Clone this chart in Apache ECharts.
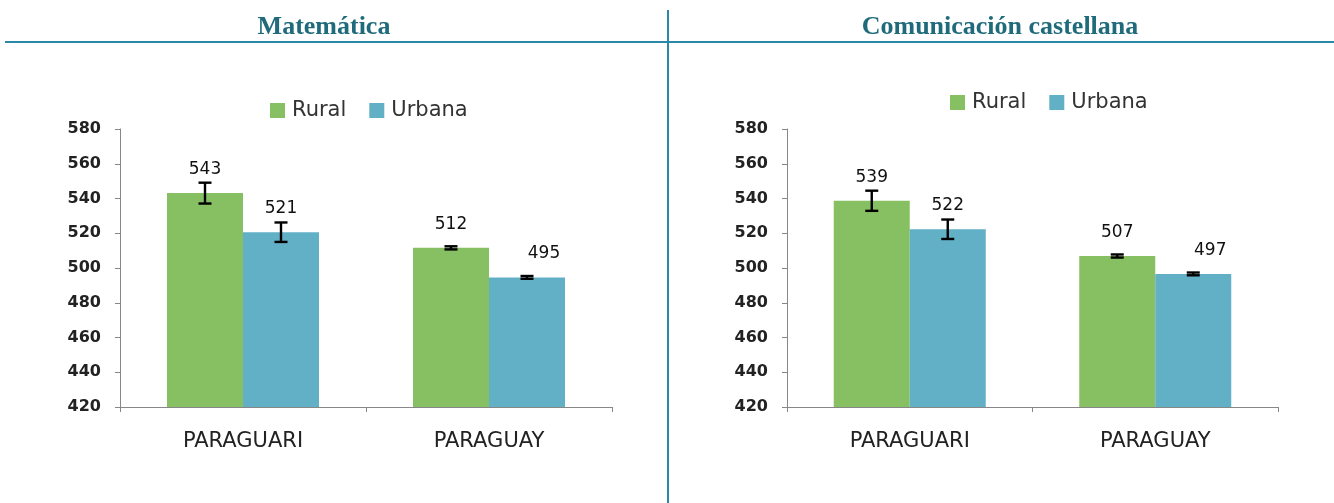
<!DOCTYPE html>
<html><head><meta charset="utf-8">
<script src="https://cdn.jsdelivr.net/npm/echarts@6/dist/echarts.min.js"></script>
<style>html,body{margin:0;padding:0;background:#fff}#c{width:1334px;height:503px}</style>
</head><body><div id="c"></div>
<script>
const categories = ['PARAGUARI', 'PARAGUAY'];
const seriesNames = ['Rural', 'Urbana'];
const titles = ['Matemática', 'Comunicación castellana'];
const yTicks = [420, 580, 20];
// Matemática
const matRural = [543.1, 511.6];
const matUrbana = [520.6, 494.6];
const matRuralErr = [6.0, 0.9];
const matUrbanaErr = [5.6, 0.8];
// Comunicación castellana
const comRural = [538.7, 506.9];
const comUrbana = [522.3, 496.6];
const comRuralErr = [5.8, 0.9];
const comUrbanaErr = [5.6, 0.8];

const GREEN = '#87C062', BLUE = '#62B0C6';
const BAR_W = 76;
const SANS = 'DejaVu Sans';

function barSeries(name, vals, gi, color, shiftSmall) {
  return {
    name, type: 'bar', xAxisIndex: gi, yAxisIndex: gi,
    barWidth: BAR_W, barGap: '0%',
    itemStyle: { color },
    data: vals.map((v, i) => ({
      value: v,
      label: (shiftSmall && i === 1) ? { offset: [17, 0] } : undefined
    })),
    label: {
      show: true, position: 'top', distance: 15,
      fontFamily: SANS, fontSize: 17, color: '#111',
      formatter: p => Math.round(p.value)
    },
    z: 2
  };
}
function errSeries(vals, errs, gi, sign) {
  return {
    type: 'custom', xAxisIndex: gi, yAxisIndex: gi, z: 5, silent: true,
    data: vals.map((v, i) => [i, v, errs[i]]),
    renderItem: function (params, api) {
      const c = api.value(0), v = api.value(1), e = api.value(2);
      const base = api.coord([c, v]);
      const top = api.coord([c, v + e])[1];
      const bot = api.coord([c, v - e])[1];
      const x = base[0] + sign * BAR_W / 2;
      const st = { stroke: '#000', lineWidth: 2.4 };
      return { type: 'group', children: [
        { type: 'line', shape: { x1: x, y1: top, x2: x, y2: bot }, style: st },
        { type: 'line', shape: { x1: x - 6.5, y1: top, x2: x + 6.5, y2: top }, style: st },
        { type: 'line', shape: { x1: x - 6.5, y1: bot, x2: x + 6.5, y2: bot }, style: st }
      ]};
    }
  };
}
const grids = [
  { left: 120, top: 129, width: 492, height: 278 },
  { left: 787, top: 129, width: 491, height: 278 }
];
const axisGrey = '#878787';
const option = {
  animation: false,
  backgroundColor: '#fff',
  grid: grids,
  legend: [
    { data: seriesNames, left: 270, top: 100, padding: 0, itemWidth: 15, itemHeight: 15, itemGap: 23, icon: 'rect',
      textStyle: { fontFamily: SANS, fontSize: 21, color: '#333', padding: [0, 0, 0, 2] } },
    { data: seriesNames, left: 950, top: 92, padding: 0, itemWidth: 15, itemHeight: 15, itemGap: 23, icon: 'rect',
      textStyle: { fontFamily: SANS, fontSize: 21, color: '#333', padding: [0, 0, 0, 2] } }
  ],
  xAxis: [0, 1].map(gi => ({
    type: 'category', gridIndex: gi, data: categories,
    axisLine: { lineStyle: { color: axisGrey, width: 1 } },
    axisTick: { show: true, length: 5, lineStyle: { color: axisGrey } },
    axisLabel: { fontFamily: SANS, fontSize: 21, color: '#222', margin: 24 }
  })),
  yAxis: [0, 1].map(gi => ({
    type: 'value', gridIndex: gi, min: yTicks[0], max: yTicks[1], interval: yTicks[2],
    axisLine: { show: true, lineStyle: { color: axisGrey, width: 1 } },
    axisTick: { show: true, length: 5, lineStyle: { color: axisGrey } },
    splitLine: { show: false },
    axisLabel: { fontFamily: SANS, fontSize: 16, fontWeight: 'bold', color: '#222', margin: 19 }
  })),
  series: [
    barSeries('Rural', matRural, 0, GREEN, false),
    barSeries('Urbana', matUrbana, 0, BLUE, true),
    barSeries('Rural', comRural, 1, GREEN, false),
    barSeries('Urbana', comUrbana, 1, BLUE, true),
    errSeries(matRural, matRuralErr, 0, -1),
    errSeries(matUrbana, matUrbanaErr, 0, 1),
    errSeries(comRural, comRuralErr, 1, -1),
    errSeries(comUrbana, comUrbanaErr, 1, 1)
  ],
  graphic: [
    { type: 'line', shape: { x1: 5, y1: 42, x2: 1334, y2: 42 }, style: { stroke: '#2A8AA6', lineWidth: 2 } },
    { type: 'line', shape: { x1: 668, y1: 10, x2: 668, y2: 503 }, style: { stroke: '#2A8AA6', lineWidth: 2 } },
    { type: 'text', x: 324, y: 27, style: { text: titles[0], fill: '#1F6B7B', font: 'bold 26px "Liberation Serif"', textAlign: 'center', textVerticalAlign: 'middle' } },
    { type: 'text', x: 1000, y: 27, style: { text: titles[1], fill: '#1F6B7B', font: 'bold 26px "Liberation Serif"', textAlign: 'center', textVerticalAlign: 'middle' } }
  ]
};
const chart = echarts.init(document.getElementById('c'), null, { renderer: 'canvas' });
chart.setOption(option);
</script></body></html>
